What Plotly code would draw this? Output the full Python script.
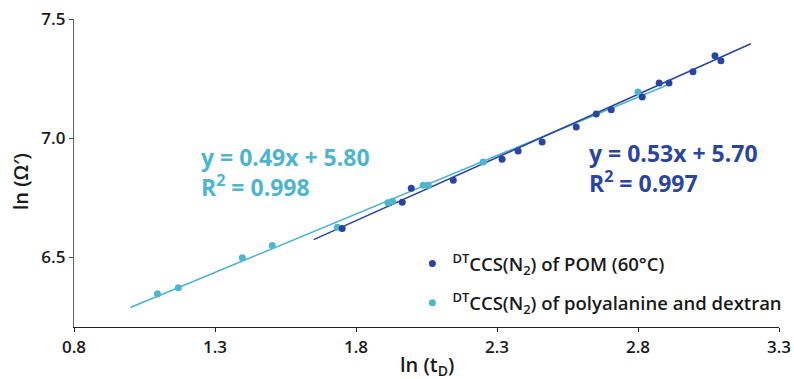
import plotly.graph_objects as go

# POM (60°C) data
pom_x = [1.751, 1.964, 1.996, 2.145, 2.318, 2.375, 2.460, 2.581, 2.652, 2.705,
         2.815, 2.875, 2.910, 2.995, 3.073, 3.094]
pom_y = [6.621, 6.731, 6.790, 6.824, 6.912, 6.946, 6.984, 7.047, 7.102, 7.119,
         7.173, 7.232, 7.232, 7.279, 7.346, 7.325]

# polyalanine and dextran data
pad_x = [1.096, 1.170, 1.397, 1.503, 1.734, 1.913, 1.930, 2.038, 2.056, 2.251, 2.800]
pad_y = [6.347, 6.373, 6.499, 6.550, 6.626, 6.729, 6.736, 6.803, 6.803, 6.900, 7.194]

# linear fits
pom_slope, pom_icpt = 0.53, 5.70
pad_slope, pad_icpt = 0.49, 5.80
pom_fit_x = [1.65, 3.20]
pad_fit_x = [1.00, 2.90]

x_ticks = [0.8, 1.3, 1.8, 2.3, 2.8, 3.3]
y_ticks = [6.5, 7.0, 7.5]

DARK = "#2A45A0"
LIGHT = "#4DB5CE"
FONT = "Open Sans"
INK = "#1a1a1a"

fig = go.Figure()
fig.add_trace(go.Scatter(x=pad_fit_x, y=[pad_slope * v + pad_icpt for v in pad_fit_x],
                         mode="lines", line=dict(color=LIGHT, width=1.6), showlegend=False,
                         hoverinfo="skip"))
fig.add_trace(go.Scatter(x=pom_fit_x, y=[pom_slope * v + pom_icpt for v in pom_fit_x],
                         mode="lines", line=dict(color=DARK, width=1.6), showlegend=False,
                         hoverinfo="skip"))
fig.add_trace(go.Scatter(x=pad_x, y=pad_y, mode="markers",
                         marker=dict(color=LIGHT, size=7),
                         name="<sup>DT</sup>CCS(N<sub>2</sub>) of polyalanine and dextran",
                         legendrank=2, legendgroup="b"))
fig.add_trace(go.Scatter(x=pom_x, y=pom_y, mode="markers",
                         marker=dict(color=DARK, size=7),
                         name="<sup>DT</sup>CCS(N<sub>2</sub>) of POM (60°C)",
                         legendrank=1, legendgroup="a"))

fig.add_annotation(x=1.245, y=6.857, xref="x", yref="y", xanchor="left", yanchor="middle",
                   align="left", showarrow=False,
                   text="y = 0.49x + 5.80<br>R<sup>2</sup> = 0.998",
                   font=dict(family=FONT, size=23, color=LIGHT, weight="bold"))
fig.add_annotation(x=2.620, y=6.876, xref="x", yref="y", xanchor="left", yanchor="middle",
                   align="left", showarrow=False,
                   text="y = 0.53x + 5.70<br>R<sup>2</sup> = 0.997",
                   font=dict(family=FONT, size=23, color=DARK, weight="bold"))

# axis titles
fig.add_annotation(x=0.5, y=0, xref="paper", yref="paper", xanchor="center", yanchor="top",
                   yshift=-22, showarrow=False, text="ln (t<sub>D</sub>)",
                   font=dict(family=FONT, size=20, color=INK, weight=600))
fig.add_annotation(x=0, y=0.47, xref="paper", yref="paper", xanchor="center", yanchor="middle",
                   xshift=-54, showarrow=False, text="ln (Ω′)", textangle=-90,
                   font=dict(family=FONT, size=20, color=INK, weight=600))

fig.update_layout(
    width=794, height=379,
    margin=dict(l=74, r=15, t=19, b=52, autoexpand=False),
    paper_bgcolor="white", plot_bgcolor="white",
    font=dict(family=FONT, color=INK),
    showlegend=True,
    legend=dict(x=0.48, y=0.266, xanchor="left", yanchor="top",
                font=dict(family=FONT, size=18.5, color=INK, weight=600),
                traceorder="grouped", tracegroupgap=12, bgcolor="rgba(0,0,0,0)"),
    xaxis=dict(range=[0.8, 3.3], tickvals=x_ticks, ticktext=[f"{v:.1f}" for v in x_ticks],
               automargin=False,
               showgrid=False, zeroline=False, showline=True, linecolor="#222", linewidth=1.3,
               ticks="outside", ticklen=4, tickcolor="#222",
               tickfont=dict(family=FONT, size=17, color=INK, weight=600)),
    yaxis=dict(range=[6.208, 7.5], tickvals=y_ticks, ticktext=[f"{v:.1f}" for v in y_ticks],
               automargin=False,
               showgrid=False, zeroline=False, showline=True, linecolor="#666", linewidth=1.3,
               ticks="outside", ticklen=4, tickcolor="#444",
               tickfont=dict(family=FONT, size=17, color=INK, weight=600)),
)

fig.write_html("out.html", config={"displayModeBar": False},
               post_script="document.body.style.margin='0';document.body.style.overflow='hidden';")
